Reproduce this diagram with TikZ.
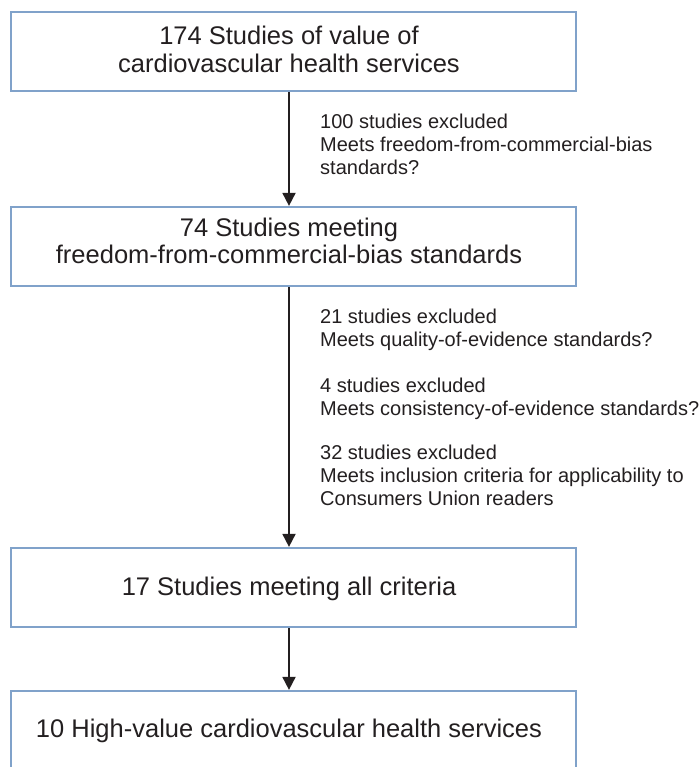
\documentclass[tikz,border=0pt]{standalone}
\usepackage{fontspec}
\setmainfont{Liberation Sans}
\usetikzlibrary{arrows.meta}
\definecolor{boxblue}{RGB}{128,162,202}
\definecolor{txt}{RGB}{35,31,32}
\begin{document}
\begin{tikzpicture}[x=1pt,y=-1pt,
  box/.style={draw=boxblue,line width=2.2pt,minimum width=565pt,minimum height=79pt,inner sep=0pt},
  lbl/.style={anchor=base,inner sep=0pt,text=txt,font=\fontsize{25.5}{28}\selectfont},
  side/.style={anchor=north west,align=left,inner sep=0pt,text=txt,font=\fontsize{20}{23.3}\selectfont},
  arr/.style={draw=txt,line width=1.8pt,-{Triangle[length=13pt,width=13pt]}}]
\useasboundingbox (0,0) rectangle (699,767);
\node[box] (b1) at (293.5,51.5) {};
\node[box] (b2) at (293.5,246.5) {};
\node[box] (b3) at (293.5,587.5) {};
\node[box,minimum height=100pt] (b4) at (293.5,741) {};
\node[lbl] (t1a) at (289,45) {174 Studies of value of};
\node[lbl] (t1b) at (289,73) {cardiovascular health services};
\node[lbl] (t2a) at (289,236) {74 Studies meeting};
\node[lbl] (t2b) at (289,263.5) {freedom-from-commercial-bias standards};
\node[lbl] (t3) at (289,595) {17 Studies meeting all criteria};
\node[lbl] (t4) at (289,737) {10 High-value cardiovascular health services};
\coordinate (ax) at (289,0);
\draw[arr] (b1.south -| ax) -- (b2.north -| ax);
\draw[arr] (b2.south -| ax) -- (b3.north -| ax);
\draw[arr] (b3.south -| ax) -- (b4.north -| ax);
\node[side] (s1) at (320,113.7) {100 studies excluded\\Meets freedom-from-commercial-bias\\standards?};
\node[side] (s2) at (320,308.7) {21 studies excluded\\Meets quality-of-evidence standards?};
\node[side] (s3) at (320,377.7) {4 studies excluded\\Meets consistency-of-evidence standards?};
\node[side] (s4) at (320,444.7) {32 studies excluded\\Meets inclusion criteria for applicability to\\Consumers Union readers};
\end{tikzpicture}
\end{document}
